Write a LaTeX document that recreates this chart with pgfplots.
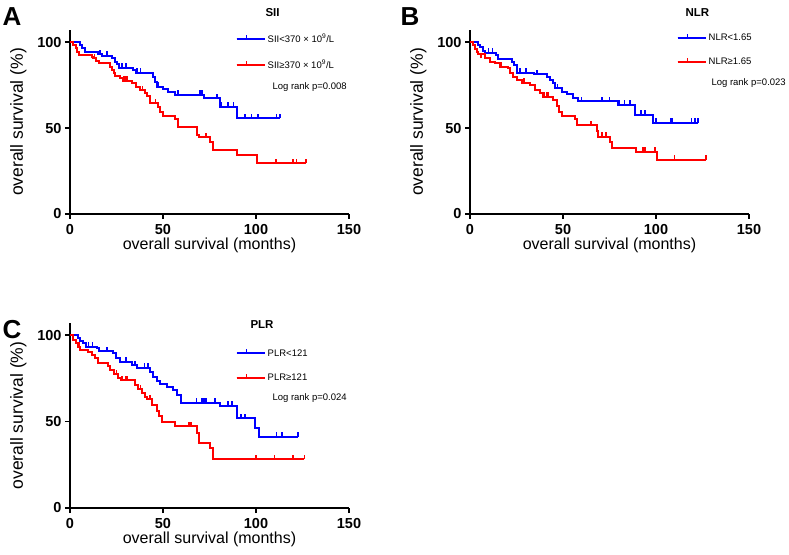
\documentclass[border=0pt]{standalone}
\usepackage{fontspec}
\setmainfont{Liberation Sans}
\usepackage{pgfplots}
\pgfplotsset{compat=1.18}
\pgfdeclareplotmark{cens}{\pgfpathmoveto{\pgfpointorigin}\pgfpathlineto{\pgfpoint{0pt}{4.5pt}}\pgfusepathqstroke}
\pgfplotsset{
  km/.style={
    scale only axis, width=279pt, height=184pt,
    xmin=0, xmax=150, ymin=0, ymax=107,
    xtick={0,50,100,150}, ytick={0,50,100},
    axis lines*=left,
    axis line style={line width=1.6pt},
    major tick style={black, line width=1.4pt},
    tick align=outside, major tick length=5pt,
    tick label style={font=\fontsize{14.5}{14.5}\selectfont\bfseries},
    xticklabel style={yshift=-1.5pt},
    xlabel style={font=\fontsize{16}{16}\selectfont, yshift=3pt},
    ylabel style={font=\fontsize{17.5}{17.5}\selectfont, yshift=4pt},
    xlabel={overall survival (months)}, ylabel={overall survival (\%)},
    /pgf/number format/assume math mode=true,
    legend style={draw=none, fill=none, font=\fontsize{9.5}{11}\selectfont,
      row sep=12pt, inner sep=0pt, anchor=north west},
    legend cell align=left,
    legend image code/.code={
      \path (0pt,0pt) -- (28pt,0pt);
      \draw[#1, line width=1.5pt] (0pt,0pt) -- (20pt,0pt);
      \draw[#1, line width=1.2pt] (10pt,0pt) -- (10pt,4pt);},
  },
  kmline/.style={line width=2pt, const plot, mark=none},
  kmcens/.style={only marks, mark=cens, mark options={line width=1.5pt}, forget plot},
}
\begin{document}
\begin{tikzpicture}
\useasboundingbox (0,0) rectangle (789pt,554pt);
% ---------------- A ----------------
\begin{axis}[km, at={(70pt,340pt)}, anchor=south west,
  legend style={at={(axis cs:89,106)}}]
\addplot[blue, kmline] table {
0 100
5.4 98.3
6.5 96.3
8 94
15.2 93
17 91.9
22.4 90.5
24.2 88.6
25 87
26.5 85
34 83.7
35.5 82.2
44.4 79.8
45.7 76.9
47 74
50.2 72.5
52.9 71.1
56.5 69.2
72 67.3
80.6 62.4
89.6 55.6
113 55.6
};
\addlegendentry{SII<370 × 10\textsuperscript{9}/L}
\addplot[red, kmline] table {
0 100
1.8 98.3
3 96.3
4 94.4
5 92.4
11.6 91.5
12.5 90.5
14 89
15.8 87.6
21.5 85.7
22.6 83.7
23.5 82.2
24.4 80.4
26.9 78.9
28.3 77.5
33.2 76
35.5 74
37.6 72.1
40.3 70.5
41.6 68.6
43 64.4
47.5 62.4
48.4 59.5
50.2 57
56.5 55
58.2 50.8
68.1 46
69.5 44.6
75.3 42
76.7 37.2
89.6 34.3
100.4 29.5
127 29.5
};
\addlegendentry{SII≥370 × 10\textsuperscript{9}/L}
\addplot[blue, kmcens] table {
16 93
20 91.9
28 85
30 85
36 82.2
38 82.2
47.5 74
58 69.2
70 69.2
71 69.2
78.9 67.3
81.5 62.4
85 62.4
87.8 62.4
94 55.6
97.7 55.6
101 55.6
111 55.6
113 55.6
};
\addplot[red, kmcens] table {
13.3 90.5
29 77.5
30 77.5
31 77.5
39 72.1
46 64.4
73 44.6
110.8 29.5
120 29.5
121.9 29.5
127 29.5
};
\end{axis}
% ---------------- B ----------------
\begin{axis}[km, at={(470pt,340pt)}, anchor=south west,
  legend style={at={(axis cs:111,106)}}]
\addplot[blue, kmline] table {
0 100
4.5 98.3
5.6 96.9
7.2 95
8.1 93.8
14 92.4
15.2 89.9
22.4 88.6
23.6 86.6
25.4 82.2
34.4 81.2
41.6 79.8
43 77.9
44.4 76
45.7 73.1
49.3 71.1
52 69.8
55.6 67.3
58.2 65.5
79.7 63.4
88.7 57.6
98.6 53.1
122.7 53.1
};
\addlegendentry{NLR<1.65}
\addplot[red, kmline] table {
0 100
1.8 98.3
2.5 96
3.6 94
4.5 92.9
8.1 90.5
10.8 88.6
13.4 87.6
16.1 85.7
20.6 84.7
21.5 82.2
23.3 79.8
25.1 77.9
27.8 76.4
32.3 75
35 72.1
37.6 70.2
39.4 68.2
44.8 66.3
46.6 62.8
48 59.5
49.3 57
56.5 55
57.3 51.7
68.1 48.5
69 45
75.3 42
76.3 38.2
89.2 36.2
100.4 31.4
127 31.4
};
\addlegendentry{NLR≥1.65}
\addplot[blue, kmcens] table {
10 93.8
12 93.8
27 82.2
30 82.2
36 81.2
47 73.1
60 65.5
71 65.5
75 65.5
80.5 63.4
83 63.4
86 63.4
92 57.6
94 57.6
100 53.1
108 53.1
109 53.1
119 53.1
121 53.1
122.7 53.1
};
\addplot[red, kmcens] table {
6 90.5
17 85.7
29 76.4
40 68.2
41 68.2
42 68.2
65 51.7
71 45
73 45
93 36.2
94 36.2
99.5 36.2
110 31.4
127 31.4
};
\end{axis}
% ---------------- C ----------------
\begin{axis}[km, at={(70pt,46pt)}, anchor=south west, height=185pt,
  legend style={at={(axis cs:89,93)}}]
\addplot[blue, kmline] table {
0 100
4.5 98.1
5.6 96.5
7 95.2
8.6 93.2
14.3 92.3
15.8 90.8
23.3 89.4
24.7 86.5
26.9 84.6
33.2 82.7
35.8 81.1
43 78.8
44.8 75.9
46.6 73.4
48.4 71.5
52 70.1
55.6 68.2
57.3 65.3
59.5 61
80.6 59
89.6 51.8
99.5 46
101.4 41.2
122.7 41.2
};
\addlegendentry{PLR<121}
\addplot[red, kmline] table {
0 100
1.8 97.1
3.2 95.2
4.3 93.2
5.4 91.3
9.8 90
11.6 88.4
13.4 86.5
15.2 83.6
20.6 82.3
21.5 79.8
23.7 77.3
26 75.3
27.2 74
34.9 71.1
36.7 68.8
38.5 66.3
40.3 64.3
41.6 63
43.9 59.5
46.6 56.1
48 53.4
49.3 49.9
56.5 47.4
68.1 43.2
69.5 37.7
75.5 34.5
77 28.3
126 28.3
};
\addlegendentry{PLR≥121}
\addplot[blue, kmcens] table {
10 93.2
12 93.2
20 90.8
30 84.6
35 82.7
40 81.1
42 81.1
47 73.4
68 61
71 61
72 61
73 61
78 61
85 59
87 59
92 51.8
94 51.8
111 41.2
114 41.2
122.7 41.2
};
\addplot[red, kmcens] table {
5 93.2
25 77.3
28 74
30 74
31 74
38 68.8
43 63
64 47.4
65 47.4
100 28.3
110 28.3
120 28.3
126 28.3
};
\end{axis}
% titles, tests and panel letters
\node[anchor=west, font=\fontsize{11.5}{11.5}\selectfont\bfseries] at (262pt,541pt) {SII};
\node[anchor=west, font=\fontsize{9.5}{11}\selectfont] at (269pt,467pt) {Log rank p=0.008};
\node[anchor=west, font=\fontsize{11.5}{11.5}\selectfont\bfseries] at (682pt,541pt) {NLR};
\node[anchor=west, font=\fontsize{9.5}{11}\selectfont] at (708pt,471pt) {Log rank p=0.023};
\node[anchor=west, font=\fontsize{11.5}{11.5}\selectfont\bfseries] at (247pt,229pt) {PLR};
\node[anchor=west, font=\fontsize{9.5}{11}\selectfont] at (269pt,156pt) {Log rank p=0.024};
\node[font=\fontsize{26}{26}\selectfont\bfseries] at (12pt,537pt) {A};
\node[font=\fontsize{26}{26}\selectfont\bfseries] at (410pt,537pt) {B};
\node[font=\fontsize{26}{26}\selectfont\bfseries] at (12pt,224pt) {C};
\end{tikzpicture}
\end{document}
